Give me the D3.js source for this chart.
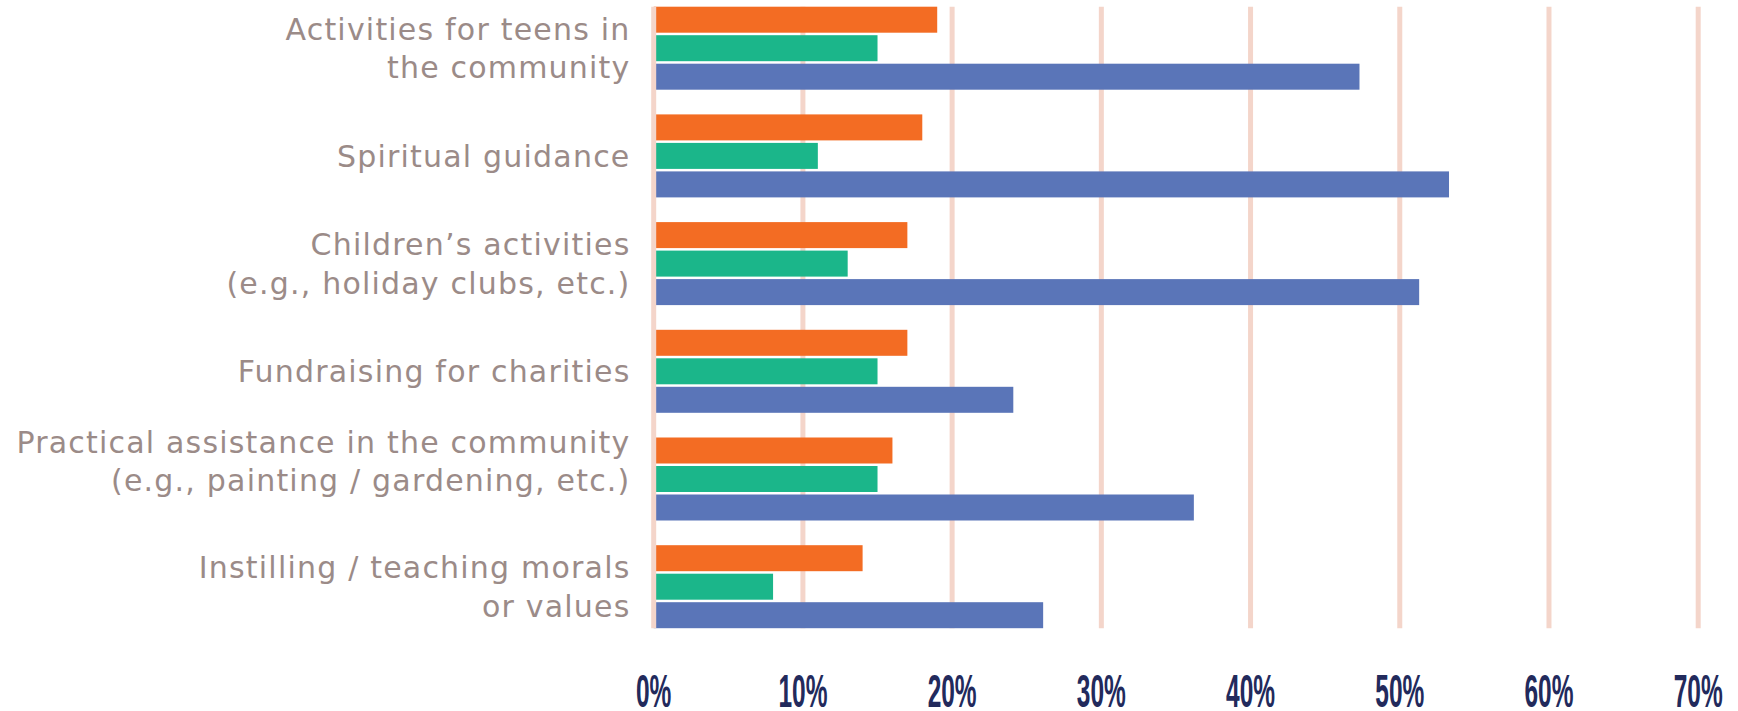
<!DOCTYPE html>
<html>
<head>
<meta charset="utf-8">
<script src="https://cdn.jsdelivr.net/npm/d3@7"></script>
<style>
	html, body { margin: 0; padding: 0; background: #fff; }
</style>
</head>
<body>
<div class="chart"></div>
<script>
const width = 1738,
	height = 711

// categories, one entry per line of the label
const categories = [
	['Activities for teens in', 'the community'],
	['Spiritual guidance'],
	['Children’s activities', '(e.g., holiday clubs, etc.)'],
	['Fundraising for charities'],
	['Practical assistance in the community', '(e.g., painting / gardening, etc.)'],
	['Instilling / teaching morals', 'or values'],
]

// series values (%)
const orangeValues = [19, 18, 17, 17, 16, 14]
const greenValues = [15, 11, 13, 15, 15, 8]
const blueValues = [47.3, 53.3, 51.3, 24.1, 36.2, 26.1]

const seriesNames = ['orange', 'green', 'blue']
const seriesColors = ['#f36c23', '#1bb68a', '#5a75b8']

const tickValues = [0, 10, 20, 30, 40, 50, 60, 70]
const tickLabels = ['0%', '10%', '20%', '30%', '40%', '50%', '60%', '70%']

const data = categories.map((c, i) => ({
	key: c.join(' '),
	lines: c,
	values: [orangeValues[i], greenValues[i], blueValues[i]],
}))

const svg = d3
	.select('.chart')
	.append('svg')
	.attr('width', width)
	.attr('height', height)

const plotTop = 6.7,
	groupStep = 107.7

const x = d3.scaleLinear().domain([0, 70]).range([653.7, 1698.2])

const y0 = d3
	.scaleBand()
	.domain(data.map(d => d.key))
	.range([plotTop, plotTop + groupStep * data.length])
	.paddingInner(0)

const y1 = d3
	.scaleBand()
	.domain(seriesNames)
	.range([0, 83])
	.paddingInner(0.0877)

const gridBottom = y0(data[data.length - 1].key) + 83

// gridlines (behind bars)
svg
	.append('g')
	.selectAll('line')
	.data(tickValues.filter(t => t > 0))
	.enter()
	.append('line')
	.attr('x1', d => x(d))
	.attr('x2', d => x(d))
	.attr('y1', plotTop)
	.attr('y2', gridBottom)
	.attr('stroke', '#f4d5ca')
	.attr('stroke-width', 5)

// bars
const groups = svg
	.append('g')
	.selectAll('g')
	.data(data)
	.enter()
	.append('g')
	.attr('transform', d => `translate(0,${y0(d.key)})`)

groups
	.selectAll('rect')
	.data(d => d.values.map((v, j) => ({ name: seriesNames[j], value: v, color: seriesColors[j] })))
	.enter()
	.append('rect')
	.attr('x', x(0))
	.attr('y', d => y1(d.name))
	.attr('width', d => x(d.value) - x(0))
	.attr('height', y1.bandwidth())
	.attr('fill', d => d.color)

// zero line on top
svg
	.append('line')
	.attr('x1', x(0))
	.attr('x2', x(0))
	.attr('y1', plotTop)
	.attr('y2', gridBottom)
	.attr('stroke', '#f4d5ca')
	.attr('stroke-width', 5)

// category labels
const lineHeight = 38.5,
	capHalf = 10.85
// the "Practical assistance" label sits higher than its bars in the original
const labelNudge = { 4: -18 }

const labels = svg
	.append('g')
	.selectAll('text')
	.data(data)
	.enter()
	.append('text')
	.attr('text-anchor', 'end')
	.style('font-family', "'DejaVu Sans', sans-serif")
	.style('font-size', '30px')
	.style('letter-spacing', '1.2px')
	.style('fill', '#9b8b88')

labels
	.selectAll('tspan')
	.data((d, i) =>
		d.lines.map((l, k) => ({
			text: l,
			k,
			n: d.lines.length,
			center: y0(d.key) + 41.5 + (labelNudge[i] || 0),
		}))
	)
	.enter()
	.append('tspan')
	.attr('x', 630.5)
	.attr('y', d => d.center + capHalf - ((d.n - 1) * lineHeight) / 2 + d.k * lineHeight)
	.text(d => d.text)

// x axis tick labels
const ticks = svg
	.append('g')
	.selectAll('text')
	.data(tickValues)
	.enter()
	.append('text')
	.attr('text-anchor', 'middle')
	.style('font-family', "'Liberation Sans Narrow', 'Liberation Sans', sans-serif")
	.style('font-weight', 'bold')
	.style('font-size', '47px')
	.style('fill', '#222a5c')
	.text((d, i) => tickLabels[i])

// squeeze the tick font so "10%" is about 49px wide
const ref = ticks.filter(d => d === 10).node().getComputedTextLength()
const sx = 49 / ref
ticks.attr('transform', d => `translate(${x(d)},706.5) scale(${sx},1)`)
</script>
</body>
</html>
